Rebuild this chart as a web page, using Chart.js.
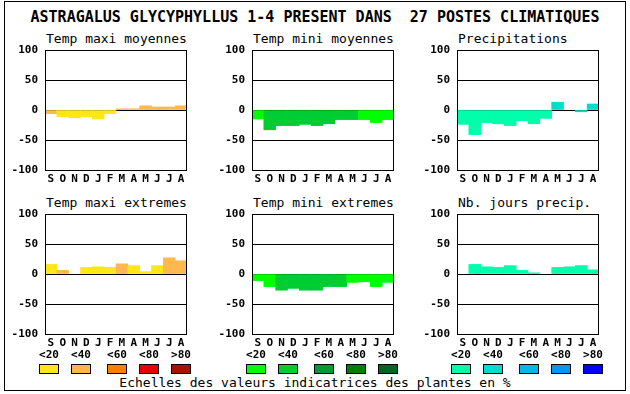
<html lang="fr">
<head>
  <meta charset="UTF-8">
  <title>Astragalus glycyphyllus</title>
  <script src="https://cdn.jsdelivr.net/npm/chart.js@4.4.1/dist/chart.umd.min.js"></script>
  <style>
    body { margin: 0; background: #fff; }
    .page { position: relative; width: 630px; height: 394px; overflow: hidden; background: #fff; font-family: "DejaVu Sans Mono", monospace; color: #000; }
    .frame { position: absolute; left: 4px; top: 1px; width: 620px; height: 388px; border: 1px solid #000; }
    .txt { position: absolute; white-space: pre; line-height: 1; }
    .title { font-size: 15px; font-weight: bold; left: 0; width: 630px; text-align: center; top: 10px; }
    .ptitle { font-size: 13px; }
    .lab { font-size: 11px; font-weight: bold; width: 30px; text-align: center; top: 349px; }
    .box { position: absolute; top: 364px; width: 18px; height: 8px; border: 1px solid #000; }
    .foot { font-size: 13px; left: 0; width: 630px; text-align: center; top: 376px; }
    canvas { position: absolute; }
  </style>
</head>
<body>
<div class="page" id="page">
  <div class="frame"></div>
</div>

<script>
(function(){
  'use strict';

  // data
  var titre = 'ASTRAGALUS GLYCYPHYLLUS 1-4 PRESENT DANS  27 POSTES CLIMATIQUES';
  var footer = 'Echelles des valeurs indicatrices des plantes en %';
  var months = ['S','O','N','D','J','F','M','A','M','J','J','A'];
  var yTicks = [-100, -50, 0, 50, 100];
  var legendLabels = ['<20', '<40', '<60', '<80', '>80'];

  var panelTitles = ['Temp maxi moyennes', 'Temp mini moyennes', 'Precipitations',
                     'Temp maxi extremes', 'Temp mini extremes', 'Nb. jours precip.'];

  var maxiMoy      = [-6, -11, -13, -11, -15, -6, 2, 2, 7, 5, 5, 7];
  var maxiMoyCls   = [1, 0, 0, 0, 0, 0, 1, 1, 1, 1, 1, 1];
  var miniMoy      = [-15, -33, -26, -26, -24, -26, -23, -16, -16, -16, -21, -16];
  var miniMoyCls   = [0, 1, 1, 1, 1, 1, 1, 1, 1, 0, 0, 0];
  var precip       = [-24, -41, -21, -23, -26, -18, -23, -14, 13, 0, -3, 10];
  var precipCls    = [0, 0, 0, 0, 0, 0, 0, 0, 1, 0, 1, 1];
  var maxiExt      = [16, 6, 0, 11, 12, 11, 17, 14, 4, 14, 27, 22];
  var maxiExtCls   = [0, 1, 0, 0, 0, 0, 1, 0, 0, 0, 1, 1];
  var miniExt      = [-11, -21, -27, -24, -27, -27, -21, -21, -14, -13, -21, -14];
  var miniExtCls   = [0, 0, 1, 1, 1, 1, 1, 1, 0, 0, 0, 0];
  var joursPrecip  = [0, 16, 12, 11, 14, 6, 2, 0, 11, 12, 14, 7];
  var joursCls     = [0, 0, 0, 0, 0, 0, 0, 0, 0, 0, 0, 0];

  // palettes
  var warm  = ['#ffe619', '#ffb84d', '#ff8000', '#e60000', '#aa1100'];
  var green = ['#00ff00', '#00cc33', '#009933', '#008000', '#006622'];
  var blue  = ['#00ffaa', '#00ddcc', '#00bbdd', '#0099ee', '#0000ff'];

  var panels = [
    { data: maxiMoy,     cls: maxiMoyCls, pal: warm },
    { data: miniMoy,     cls: miniMoyCls, pal: green },
    { data: precip,      cls: precipCls,  pal: blue },
    { data: maxiExt,     cls: maxiExtCls, pal: warm },
    { data: miniExt,     cls: miniExtCls, pal: green },
    { data: joursPrecip, cls: joursCls,   pal: blue }
  ];

  var colX = [45, 252, 457];
  var rowY = [50, 214];
  var plotW = 144, plotH = 120;
  var axisW = 45, axisH = 22, padTop = 16;
  var legendOffs = [0, 32, 68, 100, 132];
  var legendX = [39, 246, 451];

  var page = document.getElementById('page');
  var FONT = '"DejaVu Sans Mono", monospace';

  function addText(cls, text, css){
    var d = document.createElement('div');
    d.className = 'txt ' + cls;
    d.textContent = text;
    for (var k in css) d.style[k] = css[k];
    page.appendChild(d);
    return d;
  }

  addText('title', titre, {});
  addText('foot', footer, {});

  var framePlugin = {
    id: 'frame',
    afterDraw: function(chart){
      var a = chart.chartArea, ctx = chart.ctx;
      ctx.save();
      ctx.strokeStyle = '#000';
      ctx.lineWidth = 1;
      ctx.strokeRect(Math.round(a.left) + 0.5, Math.round(a.top) + 0.5,
        Math.round(a.right - a.left) - 1, Math.round(a.bottom - a.top));
      ctx.restore();
    }
  };

  panels.forEach(function(p, i){
    var col = i % 3, row = Math.floor(i / 3);
    var left = colX[col], top = rowY[row];

    addText('ptitle', panelTitles[i], { left: (left + 1) + 'px', top: (top - 18) + 'px' });

    var cv = document.createElement('canvas');
    var w = axisW + plotW + 10, h = padTop + plotH + axisH + 10;
    cv.width = w;
    cv.height = h;
    cv.style.width = w + 'px';
    cv.style.height = h + 'px';
    page.appendChild(cv);

    var chart = new Chart(cv, {
      type: 'bar',
      data: {
        labels: months,
        datasets: [{
          data: p.data.map(function(v){ return v === 0 ? null : v; }),
          backgroundColor: p.cls.map(function(c){ return p.pal[c]; }),
          borderWidth: 0,
          barPercentage: 1,
          categoryPercentage: 1
        }]
      },
      options: {
        responsive: false,
        animation: false,
        devicePixelRatio: 1,
        layout: { padding: { top: padTop, left: 0, right: 0, bottom: 0 } },
        plugins: { legend: { display: false }, tooltip: { enabled: false } },
        scales: {
          x: {
            grid: { display: false },
            border: { display: false },
            ticks: { color: '#000', font: { family: FONT, size: 11, weight: 'bold' }, padding: -5, maxRotation: 0, autoSkip: false },
            afterFit: function(s){ s.height = axisH; }
          },
          y: {
            min: -100, max: 100,
            z: 1,
            afterBuildTicks: function(s){ s.ticks = yTicks.map(function(v){ return { value: v }; }); },
            grid: { color: '#000', lineWidth: 1, drawTicks: false },
            border: { display: true, color: '#000' },
            ticks: { color: '#000', font: { family: FONT, size: 11, weight: 'bold' }, padding: 7 },
            afterFit: function(s){ s.width = axisW; }
          }
        }
      },
      plugins: [framePlugin]
    });

    // fit the plot area to the target box, then place the canvas
    var a = chart.chartArea;
    var nw = Math.round(w + (plotW - (a.right - a.left)));
    var nh = Math.round(h + (plotH - (a.bottom - a.top)));
    if (nw !== w || nh !== h) {
      cv.style.width = nw + 'px';
      cv.style.height = nh + 'px';
      chart.resize(nw, nh);
      a = chart.chartArea;
    }
    cv.style.left = Math.round(left - a.left) + 'px';
    cv.style.top = Math.round(top - a.top) + 'px';
  });

  // legend
  [warm, green, blue].forEach(function(pal, g){
    legendOffs.forEach(function(off, k){
      var x = legendX[g] + off;
      addText('lab', legendLabels[k], { left: (x - 5) + 'px' });
      var b = document.createElement('div');
      b.className = 'box';
      b.style.left = x + 'px';
      b.style.background = pal[k];
      page.appendChild(b);
    });
  });
}());
</script>
</body>
</html>
